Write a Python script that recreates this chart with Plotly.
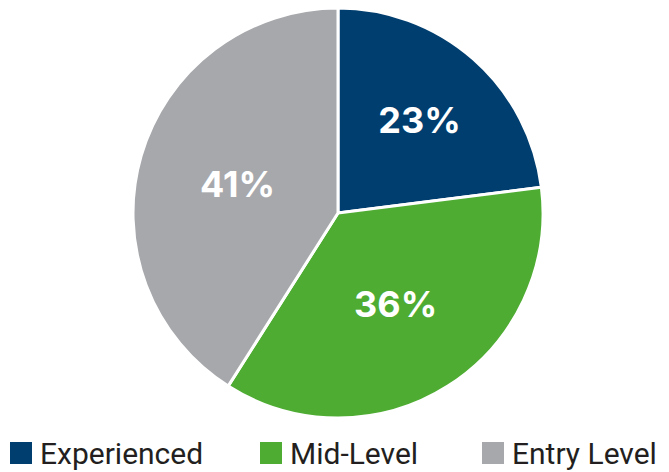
import plotly.graph_objects as go

# Share of respondents by experience level
levels = ["Experienced", "Mid-Level", "Entry Level"]
shares = [23, 36, 41]
colors = ["#003E6F", "#4EAC32", "#A7A8AC"]

W, H = 669, 472

fig = go.Figure(
    go.Pie(
        labels=levels,
        values=shares,
        sort=False,
        direction="clockwise",
        rotation=0,
        marker=dict(colors=colors, line=dict(color="white", width=3)),
        texttemplate="%{percent:.0%}",
        textposition="inside",
        insidetextorientation="horizontal",
        textfont=dict(family="Inter", size=36, color="white", weight="bold"),
        hoverinfo="label+percent",
        showlegend=False,
        domain=dict(x=[133 / W, 543 / W], y=[54 / H, 464 / H]),
    )
)

# Legend row along the bottom edge: colour swatch followed by its label
legend_left = [10, 260, 482]
swatch = 22
row_mid = 453
shapes, annotations = [], []
for name, col, x0 in zip(levels, colors, legend_left):
    shapes.append(dict(
        type="rect", xref="paper", yref="paper",
        x0=x0 / W, x1=(x0 + swatch) / W,
        y0=(H - row_mid - swatch / 2) / H, y1=(H - row_mid + swatch / 2) / H,
        fillcolor=col, line=dict(width=0),
    ))
    annotations.append(dict(
        text=name, xref="paper", yref="paper",
        x=(x0 + swatch + 7) / W, y=(H - row_mid) / H,
        xanchor="left", yanchor="middle", showarrow=False,
        borderpad=0,
        font=dict(family="Roboto", size=30, color="#231F20"),
    ))

fig.update_layout(
    width=W, height=H,
    margin=dict(l=0, r=0, t=0, b=0),
    paper_bgcolor="white", plot_bgcolor="white",
    shapes=shapes, annotations=annotations,
)

fig.write_html("out.html")
